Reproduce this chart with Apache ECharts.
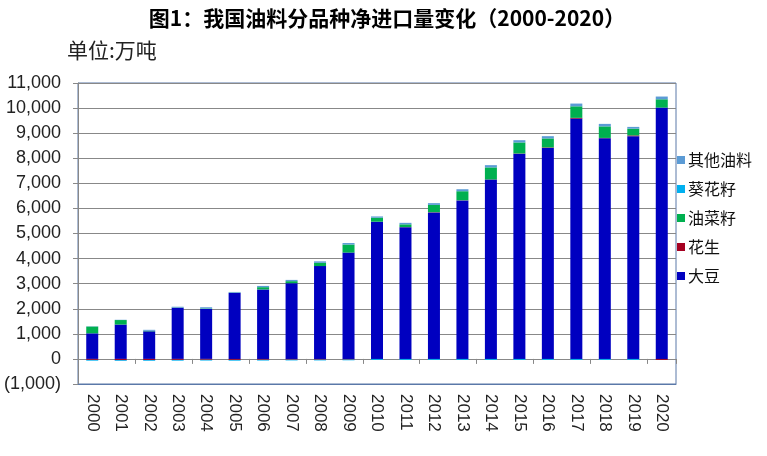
<!DOCTYPE html>
<html>
<head>
<meta charset="utf-8">
<script src="https://cdn.jsdelivr.net/npm/echarts@6/dist/echarts.min.js"></script>
<style>
html,body{margin:0;padding:0;background:#fff;}
#chartMain{width:767px;height:456px;}
</style>
</head>
<body>
<div id="chartMain"></div>
<script>
// 年份
var years = ['2000','2001','2002','2003','2004','2005','2006','2007','2008','2009','2010',
             '2011','2012','2013','2014','2015','2016','2017','2018','2019','2020'];
// 各品种净进口量（万吨）
var soybean   = [1020,1370,1100,2040,1990,2630,2770,3020,3700,4240,5470,5250,5840,6320,7150,8180,8410,9580,8800,8880,10020];
var peanut    = [-40,-50,-45,-40,-35,-40,-35,-30,-30,-25,0,5,10,5,5,10,20,30,10,30,-40];
var rapeseed  = [270,180,20,10,20,10,90,80,130,320,160,110,290,360,480,440,360,460,460,270,330];
var sunflower = [-30,-30,-30,-30,-30,-30,-30,-30,-30,-30,-40,-40,-40,-40,-40,-40,-40,-40,-40,-40,0];
var others    = [10,10,40,30,50,30,50,50,60,60,50,60,70,80,90,90,90,110,100,70,110];
// y轴刻度
var yMin = -1000, yMax = 11000, yStep = 1000;

var legendOrder = ['其他油料','葵花籽','油菜籽','花生','大豆'];
var colors = {'大豆':'#0000c0','花生':'#a50021','油菜籽':'#00b050','葵花籽':'#00b0f0','其他油料':'#5b9bd5'};
var numFont = 'Liberation Sans, Arial, sans-serif';
var cjkFont = 'Noto Sans CJK SC, sans-serif';

function fmtNum(v){
    var s = Math.abs(v).toString().replace(/\B(?=(\d{3})+(?!\d))/g, ',');
    return v < 0 ? '(' + s + ')' : s;
}

function mkSeries(name, data){
    return {
        name: name,
        type: 'bar',
        stack: 'total',
        xAxisIndex: 0,
        barWidth: 12,
        itemStyle: {color: colors[name]},
        data: data
    };
}

var myChart = echarts.init(document.getElementById('chartMain'));
myChart.setOption({
    animation: false,
    backgroundColor: '#fff',
    title: {
        text: '图1：我国油料分品种净进口量变化（2000-2020）',
        left: 382, top: 3, textAlign: 'center',
        textStyle: {fontFamily: cjkFont, fontSize: 21, fontWeight: 'bold', color: '#000'}
    },
    graphic: [{
        type: 'text', left: 67, top: 40,
        style: {text: '单位:万吨', fontFamily: cjkFont, fontSize: 21, fill: '#222'}
    }],
    legend: {
        data: legendOrder,
        orient: 'vertical',
        left: 672, top: 147,
        itemWidth: 8, itemHeight: 8, itemGap: 13,
        icon: 'rect',
        textStyle: {fontFamily: cjkFont, fontSize: 16, color: '#111', padding: [0,0,0,-2]}
    },
    grid: {
        left: 78, right: 91, top: 83, bottom: 72,
        show: true, borderColor: '#5a78a8', borderWidth: 1
    },
    xAxis: [{
        type: 'category',
        data: years,
        position: 'bottom',
        axisLine: {onZero: true, lineStyle: {color: '#888', width: 1}},
        axisTick: {show: true, length: 5, lineStyle: {color: '#888'}},
        axisLabel: {show: false}
    }, {
        type: 'category',
        data: years,
        position: 'bottom',
        axisLine: {onZero: false, lineStyle: {color: '#5a78a8'}},
        axisTick: {show: false},
        axisLabel: {
            rotate: -90, margin: 10,
            fontFamily: numFont, fontSize: 17, color: '#222'
        }
    }],
    yAxis: {
        type: 'value',
        min: yMin, max: yMax, interval: yStep,
        axisLine: {show: true, lineStyle: {color: '#888'}},
        axisTick: {show: true, length: 5, lineStyle: {color: '#888'}},
        splitLine: {lineStyle: {color: '#888', width: 1}},
        axisLabel: {
            formatter: fmtNum, margin: 17,
            fontFamily: numFont, fontSize: 18, color: '#222'
        }
    },
    series: [
        mkSeries('大豆', soybean),
        mkSeries('花生', peanut),
        mkSeries('油菜籽', rapeseed),
        mkSeries('葵花籽', sunflower),
        mkSeries('其他油料', others)
    ]
});
</script>
</body>
</html>
